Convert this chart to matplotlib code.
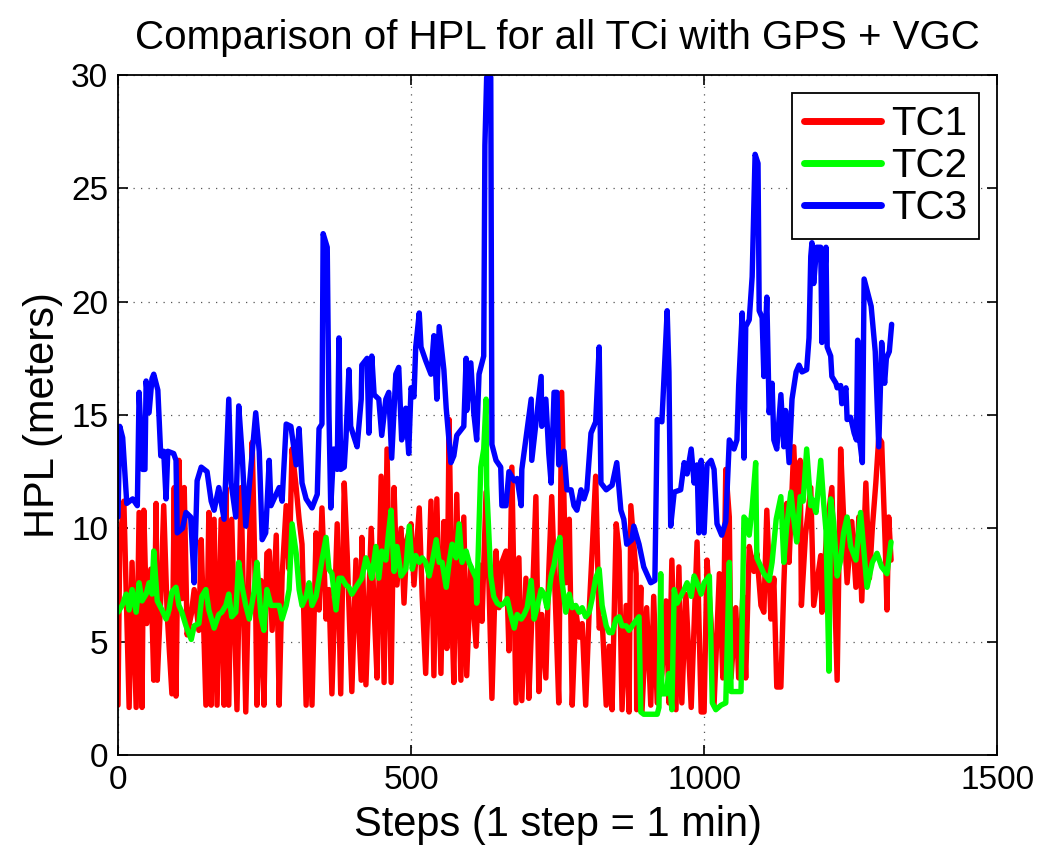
import numpy as np
import matplotlib.pyplot as plt

plt.rcParams['font.family'] = ['Liberation Sans', 'DejaVu Sans']

# HPL per step for each TC (steps, meters)
tc1_steps = [0, 3, 10, 19, 24, 31, 36, 41, 44, 49, 56, 61, 65, 67, 73, 78, 84, 92, 96, 99,
             104, 109, 113, 118, 125, 130, 138, 142, 150, 155, 159, 164, 169, 176, 181, 184, 189, 194, 203, 210,
             218, 224, 229, 235, 237, 244, 249, 254, 258, 263, 270, 275, 280, 287, 292, 297, 304, 309, 314, 321,
             326, 331, 338, 343, 348, 355, 360, 365, 374, 380, 386, 391, 399, 406, 415, 416, 423, 432, 437, 442,
             449, 454, 459, 466, 471, 476, 483, 488, 493, 500, 505, 514, 519, 525, 534, 539, 544, 551, 556, 561,
             565, 570, 573, 578, 585, 590, 595, 602, 611, 616, 621, 628, 633, 638, 645, 650, 655, 662, 667, 672,
             679, 684, 689, 696, 701, 706, 713, 718, 723, 730, 735, 740, 747, 752, 757, 764, 770, 775, 781, 787,
             792, 798, 804, 809, 815, 821, 826, 833, 838, 843, 850, 855, 860, 867, 872, 875, 884, 885, 892, 894,
             902, 909, 914, 920, 928, 935, 940, 945, 952, 957, 962, 969, 978, 983, 988, 995, 1000, 1005, 1012, 1017,
             1026, 1032, 1037, 1043, 1046, 1054, 1059, 1066, 1071, 1077, 1085, 1090, 1097, 1102, 1107, 1114, 1119, 1124, 1131, 1136,
             1141, 1145, 1153, 1158, 1164, 1166, 1173, 1182, 1187, 1199, 1201, 1210, 1218, 1227, 1233, 1238, 1244, 1252, 1259, 1264,
             1269, 1276, 1282, 1287, 1293, 1298, 1303, 1309, 1312, 1315, 1319]
tc1_hpl = [2.2, 9.3, 11.2, 2.1, 8.5, 2.1, 10.7, 2.1, 10.8, 5.8, 8.2, 3.3, 11.1, 3.3, 6.9, 11.0, 6.2, 2.7, 11.8, 2.6,
           13.0, 6.9, 11.8, 5.3, 6.2, 7.3, 5.5, 9.5, 2.2, 10.7, 2.2, 10.4, 2.2, 10.4, 2.2, 11.8, 2.2, 10.4, 2.0, 11.8,
           1.9, 8.9, 13.8, 6.4, 2.2, 7.7, 2.2, 8.9, 9.0, 5.5, 9.7, 2.2, 7.9, 11.0, 8.2, 13.5, 11.8, 10.4, 9.3, 2.2,
           7.3, 2.2, 9.8, 6.4, 10.9, 6.0, 7.3, 2.7, 10.2, 2.7, 12.0, 8.9, 2.8, 8.6, 3.3, 9.6, 3.1, 10.0, 6.5, 3.4,
           12.3, 3.2, 13.5, 3.2, 11.8, 7.5, 10.0, 6.7, 9.5, 10.2, 7.5, 10.9, 7.0, 3.6, 11.2, 3.5, 11.3, 3.6, 10.3, 4.7,
           14.8, 5.9, 3.2, 11.5, 3.3, 10.5, 3.5, 8.3, 4.8, 8.4, 5.9, 11.6, 7.5, 2.5, 9.0, 6.5, 8.5, 9.0, 4.6, 12.7,
           2.3, 8.7, 2.4, 7.8, 2.5, 6.0, 11.4, 2.8, 6.2, 3.4, 8.1, 11.4, 6.2, 2.3, 16.0, 7.6, 10.4, 2.2, 6.4, 5.2,
           5.8, 2.2, 6.4, 9.0, 12.3, 5.6, 6.0, 2.2, 4.8, 2.0, 10.2, 9.0, 2.0, 6.6, 1.9, 11.0, 8.0, 2.0, 7.4, 1.9,
           6.5, 2.2, 7.0, 2.3, 3.6, 6.8, 2.3, 8.6, 2.0, 8.3, 2.3, 7.1, 2.1, 5.8, 9.4, 1.9, 1.9, 8.6, 5.8, 2.2,
           8.0, 3.4, 12.6, 10.5, 3.4, 6.5, 3.4, 7.0, 3.4, 9.2, 8.1, 8.9, 6.6, 6.3, 10.8, 6.0, 7.8, 3.0, 3.0, 7.5,
           11.1, 8.5, 13.6, 10.4, 13.0, 6.6, 9.7, 11.8, 6.6, 8.8, 6.3, 10.2, 11.8, 3.3, 13.5, 10.5, 7.6, 10.3, 7.4, 10.5,
           6.8, 12.0, 7.8, 10.0, 12.0, 14.0, 13.8, 9.3, 6.4, 10.5, 8.6]

tc2_steps = [0, 7, 14, 19, 24, 31, 36, 41, 48, 53, 58, 61, 67, 75, 82, 87, 92, 99, 104, 109,
             116, 125, 130, 138, 143, 150, 155, 164, 172, 177, 184, 189, 194, 201, 206, 212, 218, 224, 232, 237,
             244, 249, 254, 261, 270, 275, 280, 287, 292, 297, 304, 309, 314, 321, 326, 331, 338, 343, 348, 355,
             360, 365, 372, 377, 382, 389, 394, 399, 406, 411, 416, 423, 428, 433, 440, 445, 450, 457, 462, 466,
             471, 476, 483, 491, 497, 502, 508, 514, 519, 525, 531, 536, 543, 548, 553, 560, 565, 570, 577, 582,
             587, 594, 599, 604, 611, 612, 619, 624, 628, 629, 636, 641, 647, 653, 659, 664, 670, 676, 681, 688,
             693, 698, 705, 710, 715, 722, 727, 732, 739, 744, 749, 754, 757, 764, 770, 775, 781, 787, 792, 798,
             804, 809, 815, 821, 826, 833, 838, 843, 850, 855, 860, 867, 872, 880, 889, 892, 897, 906, 914, 920,
             923, 926, 928, 935, 940, 945, 949, 954, 960, 966, 971, 978, 983, 988, 995, 1000, 1009, 1014, 1020, 1029,
             1037, 1043, 1046, 1054, 1063, 1068, 1071, 1077, 1082, 1088, 1090, 1097, 1102, 1111, 1116, 1123, 1131, 1136, 1141, 1148,
             1153, 1158, 1164, 1169, 1175, 1182, 1184, 1191, 1199, 1204, 1208, 1213, 1216, 1221, 1227, 1233, 1238, 1244, 1250, 1259,
             1267, 1273, 1278, 1287, 1295, 1303, 1312, 1319]
tc2_hpl = [6.3, 6.6, 7.1, 6.4, 7.3, 6.3, 7.6, 6.8, 7.1, 7.6, 7.1, 9.0, 6.8, 6.4, 6.0, 6.4, 7.2, 7.4, 6.6, 6.3,
           5.7, 5.1, 5.7, 5.8, 7.0, 7.3, 6.4, 5.6, 6.2, 6.3, 6.6, 7.1, 6.1, 6.3, 8.5, 7.4, 6.6, 6.0, 7.2, 8.5,
           6.1, 5.5, 7.3, 6.6, 6.6, 6.6, 6.0, 6.6, 7.3, 10.2, 8.9, 7.3, 6.6, 7.0, 7.6, 6.6, 7.0, 7.8, 8.6, 9.6,
           8.2, 8.0, 6.4, 7.8, 7.8, 7.5, 7.4, 7.1, 7.4, 7.6, 7.8, 8.7, 8.3, 7.8, 9.2, 7.8, 9.0, 8.6, 9.9, 10.8,
           8.1, 9.2, 7.9, 8.2, 10.1, 8.2, 8.8, 8.5, 8.7, 8.5, 7.9, 8.5, 9.5, 8.5, 8.5, 7.4, 8.5, 9.3, 8.7, 10.2,
           8.5, 9.0, 8.5, 8.2, 7.8, 6.7, 12.7, 13.5, 15.7, 11.9, 7.9, 7.0, 6.7, 6.6, 6.7, 6.9, 6.2, 5.6, 6.2, 6.0,
           6.2, 6.5, 7.7, 6.0, 6.5, 7.3, 7.1, 6.5, 7.9, 8.4, 9.2, 9.6, 7.8, 6.3, 7.1, 6.5, 6.6, 6.3, 6.5, 6.1,
           6.3, 6.9, 7.8, 8.2, 6.6, 5.7, 5.4, 5.4, 6.0, 6.1, 5.7, 5.7, 5.5, 5.8, 6.1, 1.9, 1.8, 1.8, 1.8, 1.8,
           2.1, 8.0, 2.7, 2.7, 3.6, 2.0, 7.3, 6.7, 7.0, 7.3, 7.6, 7.0, 7.9, 7.6, 7.1, 7.6, 7.9, 2.3, 2.0, 2.2,
           2.3, 8.5, 2.8, 2.8, 2.8, 10.5, 10.4, 9.7, 10.9, 12.9, 8.7, 8.3, 8.0, 7.7, 8.5, 10.4, 11.4, 8.5, 10.1, 11.6,
           10.4, 9.4, 11.4, 11.2, 13.5, 11.0, 11.3, 10.7, 13.0, 11.1, 9.9, 3.7, 11.3, 10.3, 7.9, 8.6, 9.8, 10.5, 9.2, 8.6,
           10.7, 8.9, 7.4, 8.5, 8.9, 8.3, 8.0, 9.4]

tc3_steps = [0, 3, 8, 15, 25, 33, 36, 42, 46, 48, 53, 58, 61, 68, 73, 78, 82, 85, 95, 99,
             101, 110, 116, 124, 128, 130, 135, 142, 152, 159, 164, 172, 181, 189, 193, 201, 206, 212, 218, 235,
             241, 246, 252, 258, 261, 275, 280, 287, 295, 304, 309, 314, 321, 331, 340, 343, 348, 350, 357, 360,
             363, 368, 374, 377, 380, 386, 389, 394, 397, 403, 408, 415, 416, 425, 428, 433, 437, 445, 450, 457,
             462, 467, 474, 479, 484, 491, 496, 500, 505, 508, 514, 517, 525, 534, 539, 544, 548, 556, 560, 568,
             573, 578, 590, 594, 595, 602, 607, 612, 616, 624, 626, 629, 636, 638, 641, 645, 653, 655, 662, 667,
             676, 681, 688, 689, 705, 706, 713, 722, 723, 730, 735, 739, 744, 749, 752, 761, 766, 773, 778, 783,
             790, 795, 800, 807, 815, 821, 824, 833, 843, 851, 858, 863, 868, 877, 880, 889, 897, 909, 916, 920,
             928, 937, 940, 943, 949, 960, 966, 971, 978, 983, 988, 991, 995, 1000, 1005, 1012, 1017, 1022, 1030, 1037,
             1043, 1051, 1056, 1059, 1065, 1068, 1071, 1077, 1082, 1087, 1092, 1094, 1099, 1102, 1107, 1111, 1116, 1119, 1124, 1131,
             1136, 1139, 1145, 1150, 1157, 1162, 1167, 1175, 1179, 1182, 1184, 1187, 1192, 1199, 1201, 1208, 1210, 1216, 1218, 1225,
             1227, 1233, 1235, 1242, 1244, 1250, 1256, 1260, 1262, 1265, 1270, 1273, 1278, 1285, 1292, 1298, 1303, 1308, 1311, 1316,
             1320]
tc3_hpl = [10.5, 14.5, 14.0, 11.1, 11.3, 11.0, 16.0, 12.6, 12.6, 16.5, 15.1, 16.6, 16.8, 16.1, 13.2, 13.4, 11.3, 13.4, 13.3, 13.0,
           9.8, 10.0, 10.7, 10.5, 8.6, 7.6, 12.1, 12.7, 12.5, 11.2, 10.8, 11.8, 10.4, 15.7, 12.0, 10.5, 15.4, 13.2, 10.1, 15.1,
           13.4, 9.5, 9.8, 13.0, 11.0, 11.8, 11.2, 14.6, 14.5, 12.8, 14.4, 12.0, 11.3, 10.9, 11.5, 14.4, 14.6, 23.0, 22.4, 15.0,
           10.9, 13.5, 12.6, 18.4, 12.6, 12.7, 14.0, 17.0, 14.5, 14.0, 13.6, 15.7, 17.2, 17.5, 14.2, 17.6, 15.9, 15.7, 14.1, 15.7,
           16.0, 13.1, 16.8, 17.1, 13.9, 15.3, 13.3, 16.2, 15.8, 18.0, 19.5, 18.0, 17.4, 16.8, 18.5, 15.7, 18.9, 17.0, 15.3, 12.9,
           13.2, 14.1, 14.5, 17.5, 15.2, 17.3, 15.1, 13.9, 16.8, 17.6, 26.9, 29.9, 29.9, 13.7, 13.4, 13.0, 12.7, 11.0, 11.0, 12.5,
           12.1, 12.2, 11.0, 12.6, 15.7, 13.0, 14.6, 16.7, 14.5, 15.7, 13.3, 12.0, 16.0, 16.0, 12.8, 13.4, 11.7, 11.7, 11.0, 10.8,
           11.7, 11.3, 11.7, 14.2, 14.7, 18.0, 12.0, 11.7, 11.9, 12.9, 10.8, 10.4, 9.3, 9.5, 10.1, 9.3, 8.3, 7.6, 7.7, 14.8,
           14.7, 19.6, 16.9, 10.1, 11.6, 11.7, 12.9, 12.4, 13.5, 12.0, 12.8, 9.8, 13.0, 9.8, 12.8, 13.0, 12.6, 10.2, 9.7, 10.3,
           13.9, 13.5, 13.9, 16.3, 19.5, 13.1, 18.9, 19.2, 21.1, 26.5, 26.1, 19.6, 19.3, 16.7, 20.2, 15.1, 16.4, 13.9, 13.5, 15.9,
           13.6, 15.2, 12.9, 15.7, 16.9, 17.2, 16.9, 17.0, 18.4, 22.0, 22.6, 20.8, 22.4, 22.4, 18.2, 22.4, 18.0, 17.6, 16.7, 16.4,
           16.2, 16.3, 15.5, 16.2, 14.8, 14.9, 14.2, 13.9, 18.3, 14.0, 12.9, 21.0, 20.5, 19.8, 17.8, 13.6, 18.2, 16.4, 17.5, 17.8,
           19.0]

series = [('TC1', tc1_steps, tc1_hpl, (1, 0, 0)),
          ('TC2', tc2_steps, tc2_hpl, (0, 1, 0)),
          ('TC3', tc3_steps, tc3_hpl, (0, 0, 1))]

fig = plt.figure(figsize=(10.46, 8.52), dpi=100)
ax = fig.add_axes([0.1128, 0.1138, 0.8405, 0.7982])

for name, steps, hpl, col in series:
    ax.plot(steps, hpl, color=col, linewidth=3.9, label=name,
            solid_joinstyle='round', solid_capstyle='round')

ax.set_xlim(0, 1500)
ax.set_ylim(0, 30)
ax.set_xticks([0, 500, 1000, 1500])
ax.set_yticks(np.arange(0, 31, 5))
ax.grid(True, linestyle=(0, (1, 5)), color='#555555', linewidth=0.9)
ax.tick_params(direction='in', length=7, width=1.2, labelsize=24,
               top=True, right=True, pad=7)
for sp in ax.spines.values():
    sp.set_linewidth(1.3)

ax.set_xlabel('Steps (1 step = 1 min)', fontsize=30, labelpad=7)
ax.set_ylabel('HPL (meters)', fontsize=30, labelpad=6)
ax.set_title('Comparison of HPL for all TCi with GPS + VGC', fontsize=29, pad=19)

leg = ax.legend(loc='upper right', fontsize=29, fancybox=False, framealpha=1,
                edgecolor='black', handlelength=1.9, handletextpad=0.25,
                borderaxespad=0.45, labelspacing=0.1, borderpad=0.3)
leg.get_frame().set_linewidth(1.3)
for line in leg.get_lines():
    line.set_linewidth(5)

fig.savefig('out.png', dpi=100)
